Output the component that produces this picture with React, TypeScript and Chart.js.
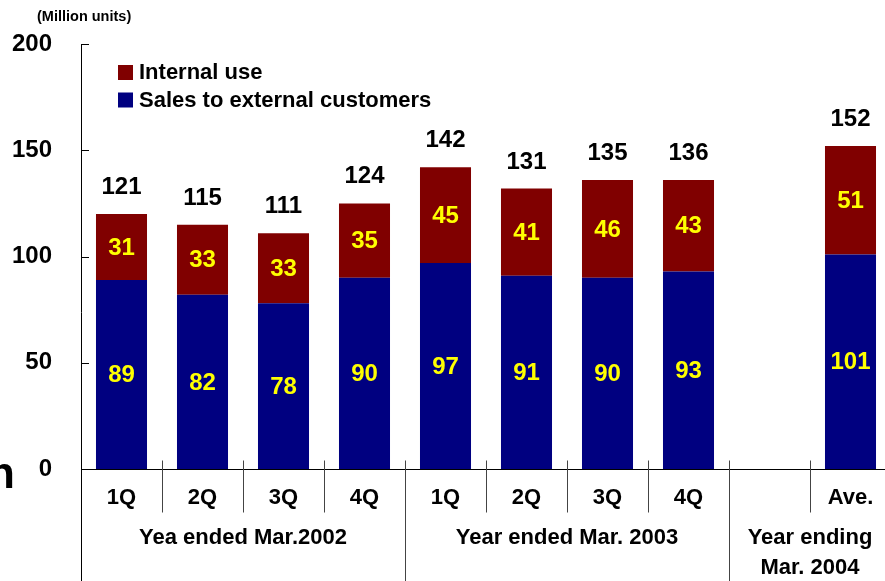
import { useEffect, useRef } from "react";
import { Chart, registerables } from "chart.js";

Chart.register(...registerables);

const categories = ["1Q", "2Q", "3Q", "4Q", "1Q", "2Q", "3Q", "4Q", "", "Ave."];
const salesExternal = [89, 82, 78, 90, 97, 91, 90, 93, null, 101];
const internalUse = [31, 33, 33, 35, 45, 41, 46, 43, null, 51];
const totals = [121, 115, 111, 124, 142, 131, 135, 136, null, 152];
const groupLabels = [["Yea ended Mar.2002"], ["Year ended Mar. 2003"], ["Year ending", "Mar. 2004"]];
const groupStarts = [0, 4, 8];
const groupEnds = [3, 7, 9];
const legendLabels = ["Internal use", "Sales to external customers"];
const unitLabel = "(Million units)";

const FONT = "'Liberation Sans', Arial, sans-serif";
const RED = "#800000";
const BLUE = "#000080";

const overlayPlugin = {
  id: "overlay",
  afterDatasetsDraw(chart: any) {
    const ctx = chart.ctx;
    ctx.save();
    ctx.textAlign = "center";
    ctx.font = `bold 24px ${FONT}`;
    ctx.fillStyle = "#ffff00";
    ctx.textBaseline = "middle";
    chart.data.datasets.forEach((ds: any, di: number) => {
      const meta = chart.getDatasetMeta(di);
      meta.data.forEach((el: any, i: number) => {
        const v = ds.data[i];
        if (v == null) return;
        ctx.fillText(String(v), el.x, (el.y + el.base) / 2 + 1);
      });
    });
    ctx.fillStyle = "#000";
    ctx.textBaseline = "alphabetic";
    const topMeta = chart.getDatasetMeta(1);
    topMeta.data.forEach((el: any, i: number) => {
      const t = totals[i];
      if (t == null) return;
      ctx.fillText(String(t), el.x, el.y - 20);
    });
    ctx.restore();
  },
  afterDraw(chart: any) {
    const ctx = chart.ctx;
    const xs = chart.scales.x;
    const ys = chart.scales.y;
    const area = chart.chartArea;
    const H = chart.height;
    ctx.save();
    ctx.strokeStyle = "#000";
    ctx.lineWidth = 1;
    ctx.beginPath();
    ctx.moveTo(Math.round(area.left) + 0.5, ys.getPixelForValue(200));
    ctx.lineTo(Math.round(area.left) + 0.5, H);
    ctx.stroke();
    const y0 = Math.round(ys.getPixelForValue(0)) + 0.5;
    ctx.beginPath();
    ctx.moveTo(area.left, y0);
    ctx.lineTo(chart.width, y0);
    ctx.stroke();
    ys.ticks.forEach((t: any) => {
      const py = Math.round(ys.getPixelForValue(t.value)) + 0.5;
      ctx.beginPath();
      ctx.moveTo(area.left, py);
      ctx.lineTo(area.left + 8, py);
      ctx.stroke();
    });
    ctx.strokeStyle = "#444";
    for (let i = 1; i < categories.length; i++) {
      const px = Math.round((xs.getPixelForValue(i - 1) + xs.getPixelForValue(i)) / 2) + 0.5;
      const long = groupStarts.includes(i);
      ctx.beginPath();
      ctx.moveTo(px, y0 - 9);
      ctx.lineTo(px, long ? H : y0 + 43);
      ctx.stroke();
    }
    ctx.fillStyle = "#000";
    ctx.font = `bold 22px ${FONT}`;
    ctx.textAlign = "center";
    ctx.textBaseline = "middle";
    groupLabels.forEach((lines, g) => {
      const cx = (xs.getPixelForValue(groupStarts[g]) + xs.getPixelForValue(groupEnds[g])) / 2;
      lines.forEach((ln, li) => {
        ctx.fillText(ln, cx, y0 + 68 + li * 30);
      });
    });
    const colors = [RED, BLUE];
    legendLabels.forEach((lab, i) => {
      const ly = 65 + i * 27.5;
      ctx.fillStyle = colors[i];
      ctx.fillRect(118, ly, 15, 15);
      ctx.fillStyle = "#000";
      ctx.textAlign = "left";
      ctx.textBaseline = "middle";
      ctx.font = `bold 22px ${FONT}`;
      ctx.fillText(lab, 139, ly + 8);
    });
    ctx.font = `bold 14.5px ${FONT}`;
    ctx.textAlign = "left";
    ctx.fillText(unitLabel, 37, 17);
    ctx.font = `bold 44px ${FONT}`;
    ctx.textAlign = "right";
    ctx.textBaseline = "alphabetic";
    ctx.fillText("n", 15, 488);
    ctx.restore();
  },
};

export default function App() {
  const ref = useRef<HTMLCanvasElement | null>(null);
  useEffect(() => {
    if (!ref.current) return;
    const chart = new Chart(ref.current, {
      type: "bar",
      data: {
        labels: categories,
        datasets: [
          {
            label: legendLabels[1],
            data: salesExternal,
            backgroundColor: BLUE,
            stack: "s",
            barPercentage: 0.63,
            categoryPercentage: 1,
          },
          {
            label: legendLabels[0],
            data: internalUse,
            backgroundColor: RED,
            stack: "s",
            barPercentage: 0.63,
            categoryPercentage: 1,
          },
        ],
      },
      options: {
        responsive: false,
        animation: false,
        devicePixelRatio: 1,
        layout: { padding: { top: 44, left: 0, right: 0, bottom: 0 } },
        plugins: { legend: { display: false }, tooltip: { enabled: false } },
        scales: {
          x: {
            stacked: true,
            grid: { display: false },
            border: { display: false },
            ticks: {
              color: "#000",
              font: { family: FONT, size: 22, weight: "bold" },
              padding: 8,
              maxRotation: 0,
              autoSkip: false,
            },
            afterFit: (s: any) => {
              s.height = 112;
            },
          },
          y: {
            stacked: true,
            min: 0,
            max: 200,
            grid: { display: false },
            border: { display: false },
            ticks: {
              stepSize: 50,
              color: "#000",
              font: { family: FONT, size: 24, weight: "bold" },
              padding: 21,
            },
            afterFit: (s: any) => {
              s.width = 81;
            },
          },
        },
      },
      plugins: [overlayPlugin],
    } as any);
    return () => chart.destroy();
  }, []);
  return (
    <div
      style={{
        position: "fixed",
        left: 0,
        top: 0,
        width: 885,
        height: 581,
        overflow: "hidden",
        background: "#fff",
      }}
    >
      <canvas ref={ref} width={891} height={581} style={{ width: 891, height: 581, display: "block" }} />
    </div>
  );
}
